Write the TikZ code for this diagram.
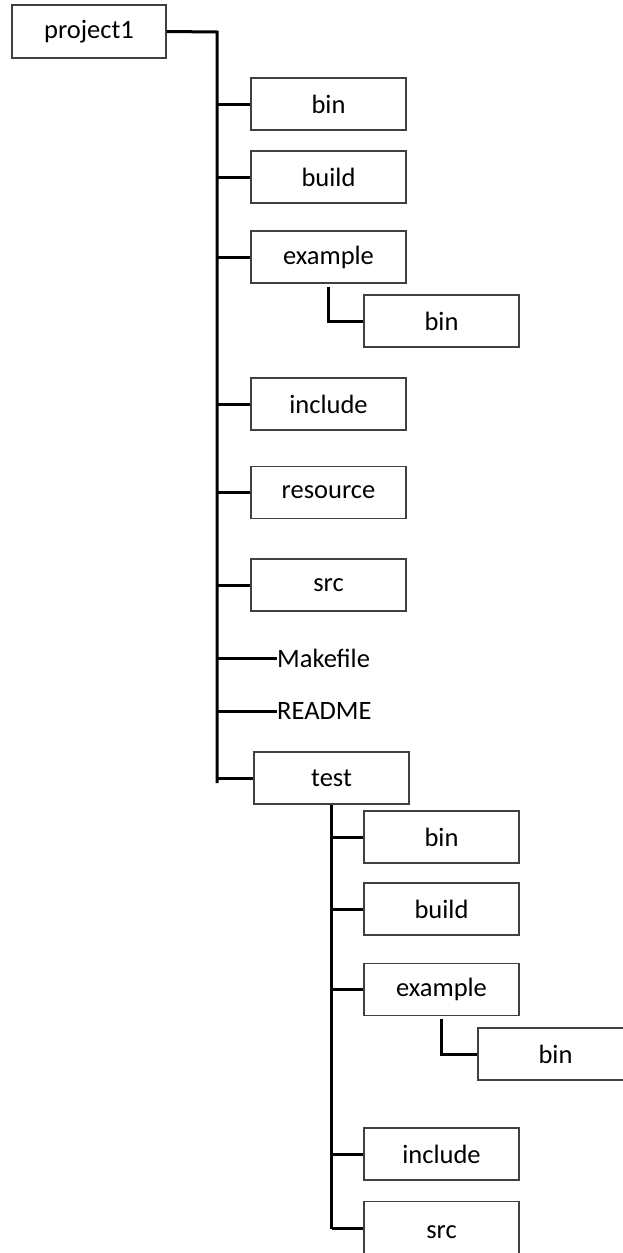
\documentclass[tikz,border=0pt]{standalone}
\usepackage{fontspec}
\setmainfont{Carlito}
\begin{document}
\begin{tikzpicture}[x=1pt,y=-1pt,
  dirbox/.style={draw=black!75, line width=1.3pt, fill=white, rectangle,
    minimum width=155pt, minimum height=52pt, inner sep=0pt,
    font=\fontsize{26.5}{31}\selectfont},
  filelabel/.style={anchor=west, inner sep=0pt, font=\fontsize{26.5}{31}\selectfont},
  link/.style={draw=black, line width=3pt}]
\useasboundingbox (0,0) rectangle (623,1253);
\clip (0,0) rectangle (623,1253);

% top-level project directory
\node[dirbox, minimum width=154pt, minimum height=53pt] (project1) at (89,31.5) {project1};

% first-level entries
\node[dirbox] (bin1)      at (328.5,104)   {bin};
\node[dirbox] (build1)    at (328.5,177)   {build};
\node[dirbox] (example1)  at (328.5,257)   {example};
\node[dirbox] (ebin1)     at (441.5,321)   {bin};
\node[dirbox] (include1)  at (328.5,404)   {include};
\node[dirbox] (resource1) at (328.5,492.5) {resource};
\node[dirbox] (src1)      at (328.5,585)   {src};
\node[filelabel] (makefile) at (277,658) {Makefile};
\node[filelabel] (readme)   at (277,711) {README};
\node[dirbox] (test)      at (331.5,778)   {test};

% entries inside test
\node[dirbox] (tbin)      at (441.5,837)   {bin};
\node[dirbox] (tbuild)    at (441.5,909)   {build};
\node[dirbox] (texample)  at (441.5,989.5) {example};
\node[dirbox] (tebin)     at (555.5,1054)  {bin};
\node[dirbox] (tinclude)  at (441.5,1154)  {include};
\node[dirbox, minimum height=60pt, anchor=north] (tsrc) at (441.5,1201) {src};

% main trunk
\coordinate (t0) at (217,32);
\coordinate (t1) at (217,783);
\draw[link] (project1.east) -- (t0) -- (t1);
\foreach \n in {bin1,build1,example1,include1,resource1,src1,makefile,readme,test}
  \draw[link] (\n.west -| t0) -- (\n.west);

% example/bin
\coordinate (e0) at ([yshift=-3pt]example1.south);
\draw[link] (e0) -- (e0 |- ebin1.west) -- (ebin1.west);

% test trunk
\coordinate (s0) at ([yshift=3pt]tsrc.west);
\draw[link] (test.south) -- (test.south |- s0);
\foreach \n in {tbin,tbuild,texample,tinclude}
  \draw[link] (\n.west -| test.south) -- (\n.west);
\draw[link] (s0 -| test.south) -- (s0);

% test/example/bin
\coordinate (e1) at ([yshift=-3pt]texample.south);
\draw[link] (e1) -- (e1 |- tebin.west) -- (tebin.west);
\end{tikzpicture}
\end{document}
